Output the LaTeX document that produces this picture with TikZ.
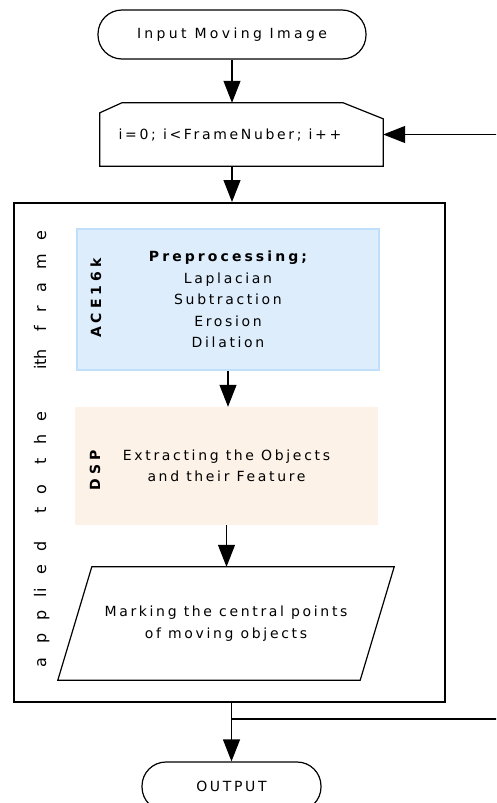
\documentclass[tikz,border=0pt]{standalone}
\usepackage{fontspec}
\setmainfont{DejaVu Sans}[LetterSpace=19]
\newfontfamily\widesans{DejaVu Sans}[LetterSpace=24]
\newfontfamily\boldwide{DejaVu Sans Bold}[LetterSpace=22]
\newfontfamily\boldside{DejaVu Sans Bold}[LetterSpace=29]
\newfontfamily\plainsans{DejaVu Sans}
\usetikzlibrary{arrows.meta}

\newcommand\vgap[1]{\hskip 0pt plus #1fil\relax}

\definecolor{aceblue}{RGB}{221,237,252}
\definecolor{aceedge}{RGB}{192,223,250}
\definecolor{dsporange}{RGB}{253,242,232}

\tikzset{
  txt/.style={font=\fontsize{14}{21.5}\selectfont, align=center},
  terminal/.style={txt, draw, line width=1.2pt, rounded corners=24pt, minimum height=49pt},
  stage/.style={txt, inner sep=0pt},
  flowline/.style={line width=1.2pt, -{Triangle[length=22pt,width=17pt]}},
  sidelabel/.style={rotate=90, font=\boldside\fontsize{14}{16}\selectfont}
}

\begin{document}
\begin{tikzpicture}[x=1pt,y=-1pt]
    \clip (0,0) rectangle (496,803);
    % start and loop header
    \node[terminal, minimum width=268pt, font=\widesans\fontsize{14}{16}\selectfont] (start) at (232,34.5) {Input Moving Image};
    \node[minimum width=283pt, minimum height=63pt, inner sep=0pt] (loop) at (241.5,134.5) {};
    \draw[line width=1.2pt] ([xshift=22pt]loop.north west) -- ([xshift=-40pt]loop.north east)
        -- ([yshift=-16pt]loop.north east) -- (loop.south east) -- (loop.south west)
        -- ([yshift=-10pt]loop.north west) -- cycle;
    \node[txt] (looptext) at (230,135) {i=0; i<FrameNuber; i++};

    % body applied to each frame
    \node[draw, line width=2pt, minimum width=431pt, minimum height=499pt] (frame) at (229.5,452.5) {};
    \node[rotate=90, anchor=base, font=\plainsans\fontsize{16}{18}\selectfont] (applied) at (46,449)
        {\hbox to 436pt{a\vgap1 p\vgap1 p\vgap1 li\vgap1 e\vgap1 d\vgap{2.8} t\vgap1 o\vgap{1.8} t\vgap1 h\vgap1 e\vgap{4.5} ith\vgap{1.5} f\vgap1 r\vgap1 a\vgap1 m\vgap1 e}};

    \node[stage, fill=aceblue, draw=aceedge, line width=1.5pt, minimum width=302pt, minimum height=141pt] (pre) at (228,299.5)
        {{\boldwide Preprocessing;}\\Laplacian\\Subtraction\\Erosion\\Dilation};
    \node[sidelabel] (ace) at (96,298) {ACE16k};

    \node[stage, fill=dsporange, minimum width=303pt, minimum height=118pt] (dsp) at (226.5,466)
        {Extracting the Objects\\and their Feature};
    \node[sidelabel] (dsplabel) at (95,470) {DSP};

    \node[stage, minimum width=302pt, minimum height=113pt] (mark) at (226,623.5)
        {Marking the central points\\of moving objects};
    \draw[line width=1.2pt] ([xshift=-17pt]mark.south west) -- ([xshift=-17pt]mark.south east)
        -- ([xshift=17pt]mark.north east) -- ([xshift=17pt]mark.north west) -- cycle;

    % end
    \node[terminal, minimum width=179pt] (output) at (231.5,786.5) {OUTPUT};

    % connectors
    \draw[flowline] (start.south) -- (start.south |- loop.north);
    \draw[flowline] (start.south |- loop.south) -- (start.south |- frame.north);
    \draw[flowline] (pre.south) -- (pre.south |- dsp.north);
    \draw[flowline] (dsp.south) -- (dsp.south |- mark.north);
    \draw[flowline] (output.north |- frame.south) -- (output.north);

    % back to the loop header
    \coordinate (turn) at (510,719);
    \coordinate (join) at (output.north |- turn);
    \draw[flowline] (join) -- (turn) -- (turn |- loop.east) -- (loop.east);
\end{tikzpicture}
\end{document}
